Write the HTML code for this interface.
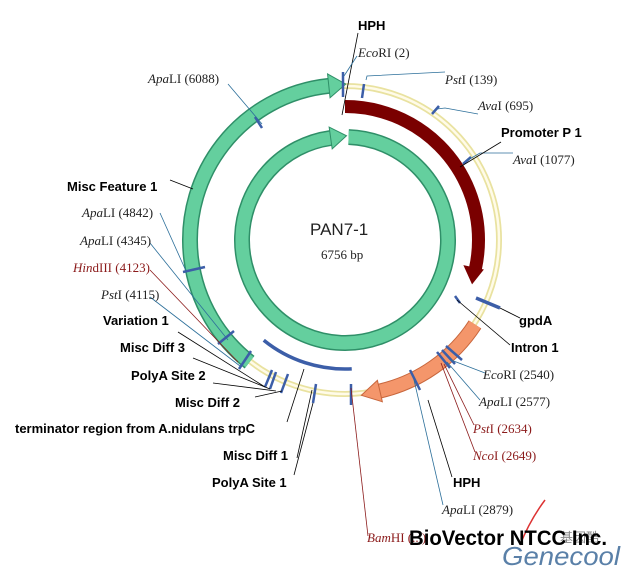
<!DOCTYPE html>
<html><head><meta charset="utf-8"><style>
html,body{margin:0;padding:0;background:#fff;}
svg{display:block;}
.b{font-family:"Liberation Sans",sans-serif;font-weight:bold;font-size:13px;fill:#000;}
.r{font-family:"Liberation Serif",serif;font-size:13px;fill:#222;}
.rr{font-family:"Liberation Serif",serif;font-size:13px;fill:#8b1a1a;}
</style></head><body>
<svg width="625" height="568" viewBox="0 0 625 568" xmlns="http://www.w3.org/2000/svg">
<circle cx="345" cy="240" r="154" fill="none" stroke="#e9e2a0" stroke-width="6"/>
<circle cx="345" cy="240" r="154" fill="none" stroke="#fffbe8" stroke-width="2.5"/>

<circle cx="345" cy="240" r="155" fill="none" stroke="#2f8f68" stroke-width="16" stroke-dasharray="368.2 1000" transform="rotate(128 345 240)"/>
<circle cx="345" cy="240" r="155" fill="none" stroke="#64cf9e" stroke-width="13" stroke-dasharray="368.2 1000" transform="rotate(128 345 240)"/>
<polygon points="345,73 345,97 362,85" fill="#64cf9e" stroke="#2f8f68" stroke-width="1" transform="rotate(-6 345 240)"/>

<circle cx="345" cy="240" r="103" fill="none" stroke="#2f8f68" stroke-width="16" stroke-dasharray="628.9 1000" transform="rotate(-88 345 240)"/>
<circle cx="345" cy="240" r="103" fill="none" stroke="#64cf9e" stroke-width="13" stroke-dasharray="628.9 1000" transform="rotate(-88 345 240)"/>
<polygon points="345,126 345,148 361,137" fill="#64cf9e" stroke="#2f8f68" stroke-width="1" transform="rotate(-8 345 240)"/>

<circle cx="345" cy="240" r="133.5" fill="none" stroke="#7a0000" stroke-width="13" stroke-dasharray="238 1000" transform="rotate(-90 345 240)"/>
<polygon points="345,98 345,119 362,106.5" fill="#7a0000" transform="rotate(102 345 240)"/>

<circle cx="345" cy="240" r="155" fill="none" stroke="#c8663c" stroke-width="15" stroke-dasharray="119 1000" transform="rotate(33 345 240)"/>
<circle cx="345" cy="240" r="155" fill="none" stroke="#f4966b" stroke-width="13" stroke-dasharray="119 1000" transform="rotate(33 345 240)"/>
<polygon points="345,74 345,96 364,85" fill="#f4966b" stroke="#c8663c" stroke-width="1" transform="rotate(167 345 240)"/>

<circle cx="345" cy="240" r="129" fill="none" stroke="#3c5ea8" stroke-width="3.5" stroke-dasharray="94.6 1000" transform="rotate(87 345 240)"/>
<line x1="476" y1="298" x2="500" y2="308" stroke="#3c5ea8" stroke-width="3.5"/>

<g stroke="#3c5ea8" stroke-width="2.5">
<line x1="343" y1="72" x2="343" y2="97"/>
<line x1="364" y1="84" x2="362" y2="98"/>
<line x1="255" y1="117" x2="262" y2="128"/>
<line x1="432" y1="114" x2="439" y2="106"/>
<line x1="463" y1="164" x2="471" y2="157"/>
<line x1="183" y1="272" x2="205" y2="267"/>
<line x1="218" y1="344" x2="234" y2="331"/>
<line x1="239" y1="369" x2="251" y2="351"/>
<line x1="265" y1="387" x2="272" y2="370"/>
<line x1="270" y1="389" x2="276" y2="372"/>
<line x1="281" y1="393" x2="288" y2="374"/>
<line x1="313" y1="403" x2="316" y2="384"/>
<line x1="351" y1="384" x2="351" y2="405"/>
<line x1="410" y1="370" x2="420" y2="390"/>
<line x1="437" y1="352" x2="450" y2="368"/>
<line x1="442" y1="350" x2="455" y2="364"/>
<line x1="446" y1="346" x2="462" y2="360"/>
<line x1="455" y1="296" x2="460" y2="303"/>
</g>

<g stroke-width="0.8" fill="none">
<line x1="358" y1="33" x2="342" y2="115" stroke="#000"/>
<line x1="344" y1="76" x2="357" y2="56" stroke="#2c6f9a"/>
<polyline points="366,80 367,76 445,72" stroke="#2c6f9a"/>
<line x1="262" y1="124" x2="228" y2="84" stroke="#2c6f9a"/>
<polyline points="437,109 445,108 478,114" stroke="#2c6f9a"/>
<polyline points="468,160 480,153 513,153" stroke="#2c6f9a"/>
<line x1="460" y1="167" x2="501" y2="142" stroke="#000"/>
<line x1="170" y1="180" x2="193" y2="189" stroke="#000"/>
<line x1="160" y1="213" x2="186" y2="271" stroke="#2c6f9a"/>
<line x1="150" y1="243" x2="228" y2="340" stroke="#2c6f9a"/>
<line x1="150" y1="270" x2="238" y2="362" stroke="#8b1a1a"/>
<line x1="150" y1="297" x2="240" y2="366" stroke="#2c6f9a"/>
<line x1="178" y1="332" x2="265" y2="387" stroke="#000"/>
<line x1="193" y1="358" x2="270" y2="389" stroke="#000"/>
<line x1="213" y1="383" x2="276" y2="391" stroke="#000"/>
<line x1="255" y1="397" x2="282" y2="391" stroke="#000"/>
<line x1="287" y1="422" x2="304" y2="369" stroke="#000"/>
<line x1="297" y1="458" x2="312" y2="390" stroke="#000"/>
<line x1="294" y1="475" x2="313" y2="403" stroke="#000"/>
<line x1="351" y1="388" x2="368" y2="536" stroke="#8b1a1a"/>
<line x1="500" y1="308" x2="520" y2="318" stroke="#000"/>
<line x1="457" y1="300" x2="510" y2="345" stroke="#000"/>
<line x1="451" y1="360" x2="485" y2="373" stroke="#2c6f9a"/>
<line x1="447" y1="362" x2="480" y2="400" stroke="#2c6f9a"/>
<line x1="444" y1="364" x2="474" y2="425" stroke="#8b1a1a"/>
<line x1="441" y1="363" x2="475" y2="452" stroke="#8b1a1a"/>
<line x1="428" y1="400" x2="452" y2="477" stroke="#000"/>
<line x1="414" y1="380" x2="443" y2="505" stroke="#2c6f9a"/>
</g>

<text x="310" y="235" font-family="Liberation Sans,sans-serif" font-size="17" fill="#222">PAN7-1</text>
<text x="321" y="259" class="r">6756 bp</text>

<text x="358" y="30" class="b">HPH</text>
<text x="358" y="57" class="r"><tspan font-style="italic">Eco</tspan>RI (2)</text>
<text x="148" y="83" class="r"><tspan font-style="italic">Apa</tspan>LI (6088)</text>
<text x="445" y="84" class="r"><tspan font-style="italic">Pst</tspan>I (139)</text>
<text x="478" y="110" class="r"><tspan font-style="italic">Ava</tspan>I (695)</text>
<text x="501" y="137" class="b">Promoter P 1</text>
<text x="513" y="164" class="r"><tspan font-style="italic">Ava</tspan>I (1077)</text>
<text x="67" y="191" class="b">Misc Feature 1</text>
<text x="82" y="217" class="r"><tspan font-style="italic">Apa</tspan>LI (4842)</text>
<text x="80" y="245" class="r"><tspan font-style="italic">Apa</tspan>LI (4345)</text>
<text x="73" y="272" class="rr"><tspan font-style="italic">Hin</tspan>dIII (4123)</text>
<text x="101" y="299" class="r"><tspan font-style="italic">Pst</tspan>I (4115)</text>
<text x="103" y="325" class="b">Variation 1</text>
<text x="120" y="352" class="b">Misc Diff 3</text>
<text x="131" y="380" class="b">PolyA Site 2</text>
<text x="175" y="407" class="b">Misc Diff 2</text>
<text x="15" y="433" class="b">terminator region from A.nidulans trpC</text>
<text x="223" y="460" class="b">Misc Diff 1</text>
<text x="212" y="487" class="b">PolyA Site 1</text>
<text x="519" y="325" class="b">gpdA</text>
<text x="511" y="352" class="b">Intron 1</text>
<text x="483" y="379" class="r"><tspan font-style="italic">Eco</tspan>RI (2540)</text>
<text x="479" y="406" class="r"><tspan font-style="italic">Apa</tspan>LI (2577)</text>
<text x="473" y="433" class="rr"><tspan font-style="italic">Pst</tspan>I (2634)</text>
<text x="473" y="460" class="rr"><tspan font-style="italic">Nco</tspan>I (2649)</text>
<text x="453" y="487" class="b">HPH</text>
<text x="442" y="514" class="r"><tspan font-style="italic">Apa</tspan>LI (2879)</text>
<text x="367" y="542" class="rr"><tspan font-style="italic">Bam</tspan>HI (...)</text>

<path d="M545 500 Q 530 520 520 545" stroke="#d33" stroke-width="1.5" fill="none"/>
<text x="560" y="542" font-family="Noto Sans CJK SC,sans-serif" font-size="13" fill="#888">基因酷</text>
<text x="409" y="545" font-family="Liberation Sans,sans-serif" font-weight="bold" font-size="21" fill="#000" textLength="198" lengthAdjust="spacingAndGlyphs">BioVector NTCC Inc.</text>
<text x="502" y="565" font-family="Liberation Sans,sans-serif" font-style="italic" font-size="26" fill="#5a80a8" textLength="118" lengthAdjust="spacingAndGlyphs">Genecool</text>
</svg>
</body></html>
